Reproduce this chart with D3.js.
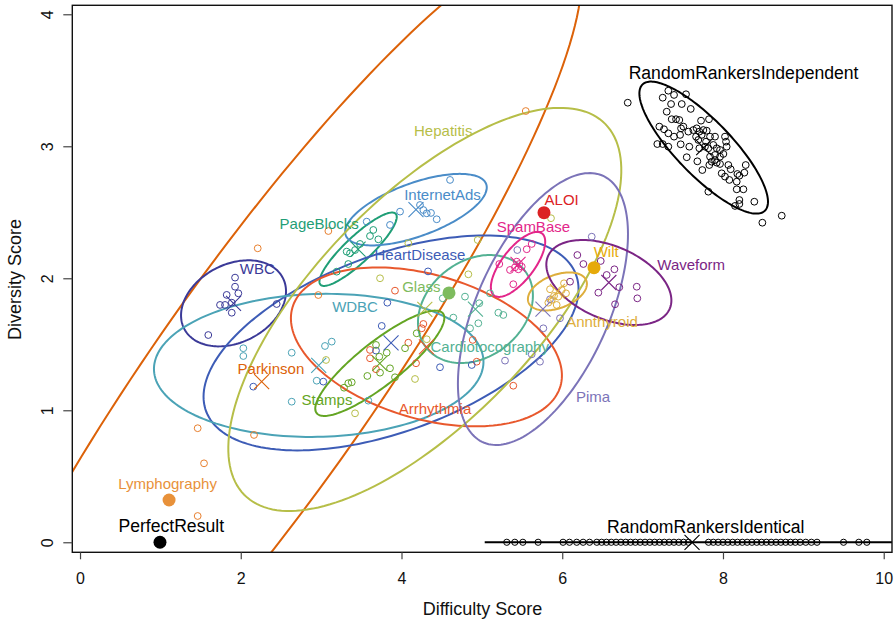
<!DOCTYPE html>
<html>
<head>
<meta charset="utf-8">
<script src="https://cdn.jsdelivr.net/npm/d3@7"></script>
<style>
  body { margin: 0; background: #fff; }
  text { font-family: "Liberation Sans", Arial, Helvetica, sans-serif; }
</style>
</head>
<body>
<script>
'use strict';

// ---- data ----
// ellipse summary per dataset: centre, sd in x, sd in y, correlation
var ellNames = ['RandomRankersIndependent', 'RandomRankersIdentical', 'Parkinson', 'WBC', 'PageBlocks',
    'InternetAds', 'HeartDisease', 'WDBC', 'Arrhythmia', 'Stamps', 'Hepatitis', 'Cardiotocography',
    'Pima', 'SpamBase', 'Annthyroid', 'Waveform'];
var ellCx = [7.76, 7.615, 2.26, 1.91, 3.46, 4.18, 3.87, 2.97, 4.31, 3.73, 4.29, 4.92, 5.76, 5.45, 5.94, 6.58];
var ellCy = [2.99, 0, 1.217, 1.81, 2.22, 2.52, 1.51, 1.34, 1.48, 1.356, 1.764, 1.767, 1.767, 2.105, 1.90, 1.968];
var ellSx = [0.80, 2.58, 3.98, 0.653, 0.481, 0.881, 2.333, 2.05, 1.686, 0.803, 2.445, 0.715, 1.058, 0.338, 0.367, 0.778];
var ellSy = [0.50, 0, 3.34, 0.326, 0.278, 0.271, 0.814, 0.542, 0.602, 0.399, 1.527, 0.409, 1.030, 0.246, 0.144, 0.322];
var ellR = [-0.82, 0, 0.91, 0.28, 0.88, 0.62, 0.5, 0.05, -0.36, 0.86, 0.69, 0.25, 0.55, 0.7, 0.4, -0.42];

// single summary points (filled dots)
var dotNames = ['PerfectResult', 'Lymphography', 'Glass', 'ALOI', 'Wilt'];
var dotX = [0.995, 1.108, 4.591, 5.773, 6.395];
var dotY = [0, 0.32, 1.889, 2.497, 2.080];

// dataset labels (data coordinates of the label centre)
var labelNames = ['RandomRankersIndependent', 'RandomRankersIdentical', 'PerfectResult', 'Lymphography',
    'Parkinson', 'WBC', 'PageBlocks', 'InternetAds', 'HeartDisease', 'Hepatitis', 'Glass', 'WDBC',
    'Stamps', 'Arrhythmia', 'Cardiotocography', 'SpamBase', 'ALOI', 'Wilt', 'Waveform', 'Annthyroid', 'Pima'];
var labelX = [8.256, 7.785, 1.135, 1.089, 2.375, 2.206, 2.976, 4.510, 4.230, 4.519, 4.247, 3.422,
    3.073, 4.417, 5.098, 5.641, 5.993, 6.547, 7.605, 6.495, 6.383];
var labelY = [3.555, 0.118, 0.123, 0.447, 1.318, 2.076, 2.417, 2.636, 2.182, 3.118, 1.936, 1.785,
    1.078, 1.015, 1.482, 2.391, 2.593, 2.202, 2.101, 1.671, 1.103];

// individual runs
var ptsRandomIndependent = [[7.320, 3.421], [7.391, 3.389], [7.540, 3.394], [7.250, 3.368], [7.354, 3.320],
    [7.487, 3.320], [7.599, 3.283], [6.815, 3.330], [7.300, 3.262], [7.727, 3.194], [7.826, 3.205],
    [7.362, 3.205], [7.416, 3.205], [7.457, 3.199], [7.507, 3.149], [7.478, 3.136], [7.208, 3.149],
    [7.266, 3.129], [7.320, 3.098], [7.391, 3.073], [7.466, 3.086], [7.569, 3.111], [7.631, 3.123],
    [7.673, 3.136], [7.706, 3.111], [7.756, 3.123], [7.798, 3.118], [7.839, 3.073], [7.901, 3.073],
    [7.665, 3.073], [7.693, 3.048], [7.735, 3.086], [7.789, 3.035], [7.880, 3.010], [7.922, 2.985],
    [7.963, 2.972], [8.025, 3.073], [8.038, 3.035], [7.183, 3.017], [7.250, 3.017], [7.320, 2.997],
    [7.474, 3.015], [7.581, 2.997], [7.818, 2.985], [7.839, 2.921], [7.901, 2.934], [7.963, 2.921],
    [8.005, 2.942], [7.860, 2.883], [7.922, 2.876], [7.549, 2.917], [7.681, 2.886], [7.743, 2.820],
    [7.830, 2.858], [7.901, 2.896], [7.963, 2.866], [8.067, 2.858], [8.096, 2.826], [8.283, 2.858],
    [8.266, 2.800], [7.984, 2.795], [8.025, 2.770], [8.079, 2.745], [8.179, 2.790], [8.204, 2.777],
    [8.171, 2.732], [8.254, 2.674], [8.171, 2.674], [7.818, 2.656], [8.204, 2.593], [8.150, 2.548],
    [8.204, 2.563], [8.390, 2.580], [8.490, 2.421], [8.731, 2.474], [8.046, 2.997], [7.776, 2.997],
    [7.706, 2.985]];
var identicalX = [5.31, 5.41, 5.51, 5.70, 6.01, 6.09, 6.18, 6.26, 6.34, 6.43, 6.49, 6.55, 6.61, 6.67,
    6.73, 6.79, 6.85, 6.91, 6.97, 7.03, 7.09, 7.15, 7.21, 7.27, 7.33, 7.39, 7.45, 7.51, 7.57, 7.82,
    7.88, 7.94, 8.00, 8.06, 8.12, 8.18, 8.24, 8.30, 8.36, 8.42, 8.48, 8.54, 8.60, 8.66, 8.72, 8.78,
    8.84, 8.90, 8.96, 9.03, 9.10, 9.17, 9.50, 9.69, 9.79];
var ptsLymphography = [[1.464, 0.864], [1.543, 0.598], [1.464, 0.199], [2.165, 0.813], [2.211, 2.227],
    [3.090, 2.358], [2.965, 1.873], [5.546, 3.267]];
var ptsArrhythmia = [[3.919, 1.906], [4.272, 1.654], [4.252, 1.621], [4.085, 1.512], [3.608, 1.394],
    [3.608, 1.457], [4.181, 1.356], [3.683, 1.311], [4.886, 1.533], [4.936, 1.368], [5.391, 1.186]];
var ptsHeartDisease = [[2.156, 1.179], [4.330, 2.052], [3.824, 1.815], [3.754, 1.639], [3.683, 1.452],
    [4.479, 1.326], [4.874, 1.343], [3.027, 1.217]];
var ptsInternetAds = [[4.604, 2.745], [3.982, 2.505], [3.567, 2.429], [4.438, 2.447], [4.230, 2.555],
    [4.272, 2.517], [4.314, 2.492], [4.367, 2.495], [3.857, 2.404]];
var ptsWBC = [[1.929, 2.005], [1.929, 1.936], [1.970, 1.886], [1.825, 1.874], [1.742, 1.798],
    [1.804, 1.798], [1.888, 1.815], [1.888, 1.739], [2.447, 1.805], [1.596, 1.570]];
var ptsPageBlocks = [[3.649, 2.366], [3.608, 2.320], [3.712, 2.295], [3.484, 2.260], [3.422, 2.214],
    [3.318, 2.202], [3.359, 2.189], [3.338, 2.108], [3.194, 2.050]];
var ptsWDBC = [[2.032, 1.470], [2.032, 1.411], [2.634, 1.436], [2.634, 1.065], [2.945, 1.224],
    [3.048, 1.487], [3.132, 1.520], [3.587, 1.073]];
var ptsStamps = [[3.683, 1.495], [3.816, 1.436], [3.724, 1.406], [3.857, 1.318], [3.575, 1.260],
    [3.733, 1.285], [4.044, 1.470], [4.189, 1.583], [3.381, 1.212], [3.338, 1.205], [3.285, 1.171],
    [3.919, 1.250]];
var ptsHepatitis = [[4.085, 2.265], [3.733, 2.000], [4.948, 2.290], [4.832, 2.030], [5.860, 2.455],
    [3.061, 1.381], [4.168, 1.237], [3.422, 0.977], [4.314, 1.538]];
var ptsCardiotocography = [[4.790, 1.861], [4.968, 1.811], [5.205, 1.739], [5.267, 1.722], [4.853, 1.621],
    [4.956, 1.659], [4.645, 1.702], [4.513, 1.848], [5.101, 1.886]];
var ptsSpamBase = [[5.620, 2.260], [5.558, 2.220], [5.217, 2.108], [5.350, 2.063], [5.391, 1.955],
    [5.434, 2.126], [5.466, 2.108], [5.496, 2.088], [5.412, 2.083], [5.454, 2.068]];
var ptsPima = [[6.367, 2.315], [5.441, 2.214], [5.848, 1.841], [5.972, 1.697], [5.765, 1.621],
    [5.288, 1.376], [5.723, 1.368], [5.620, 1.424]];
var ptsAnnthyroid = [[5.848, 1.917], [5.898, 1.866], [5.931, 1.798], [5.994, 1.911], [6.047, 1.886],
    [5.951, 1.861], [5.869, 1.836], [6.022, 1.962], [5.827, 1.815]];
var ptsWaveform = [[6.188, 2.176], [6.263, 2.108], [6.479, 2.131], [6.649, 2.068], [6.553, 2.025],
    [6.710, 1.932], [6.449, 1.891], [6.927, 1.936], [6.934, 1.848], [6.657, 1.803], [6.097, 1.974]];

var xTicks = [0, 2, 4, 6, 8, 10];
var yTicks = [0, 1, 2, 3, 4];

// ---- styles ----
var COLORS = {
    RandomRankersIndependent: '#000000', RandomRankersIdentical: '#000000', PerfectResult: '#000000',
    Parkinson: '#dc6209', Lymphography: '#e8913a', WBC: '#3b3a98', PageBlocks: '#1f9e76',
    InternetAds: '#4a8cc8', HeartDisease: '#3d5cb6', WDBC: '#4ba3b6', Arrhythmia: '#e8582d',
    Stamps: '#64a523', Hepatitis: '#b6be48', Glass: '#7ebb5e', Cardiotocography: '#53b193',
    Pima: '#7b73b8', SpamBase: '#e3268a', Annthyroid: '#deae3c', Waveform: '#7b2585',
    ALOI: '#dc2224', Wilt: '#e6aa0a'
};
var pointColors = { Lymphography: '#e8802f' };

var SVG_SIZE = { width: 896, height: 621 };
var PLOT = { left: 72.3, right: 892, top: 5.3, bottom: 552.3 };

var svg = d3.select('body').append('svg')
    .attr('width', SVG_SIZE.width).attr('height', SVG_SIZE.height);

var xScale = d3.scaleLinear().domain([-0.096, 10.103]).range([PLOT.left, PLOT.right]);
var yScale = d3.scaleLinear().domain([-0.076, 4.068]).range([PLOT.bottom, PLOT.top]);

svg.append('clipPath').attr('id', 'plotClip')
    .append('rect')
    .attr('x', PLOT.left).attr('y', PLOT.top)
    .attr('width', PLOT.right - PLOT.left).attr('height', PLOT.bottom - PLOT.top);

var plot = svg.append('g').attr('clip-path', 'url(#plotClip)');

//ellipse outline from centre, sds and correlation
function ellipsePoints(cx, cy, sx, sy, r) {
    var d = Math.acos(r);
    return d3.range(0, 361, 2).map(function (deg) {
        var t = deg * Math.PI / 180;
        return [cx + sx * Math.cos(t + d / 2), cy + sy * Math.cos(t - d / 2)];
    });
}
var line = d3.line()
    .x(function (p) { return xScale(p[0]) })
    .y(function (p) { return yScale(p[1]) });

var ellipseData = ellNames.map(function (n, i) {
    return { name: n, cx: ellCx[i], cy: ellCy[i], sx: ellSx[i], sy: ellSy[i], r: ellR[i] };
});

plot.selectAll('path.ell').data(ellipseData).enter().append('path')
    .attr('class', 'ell')
    .attr('d', function (e) { return line(ellipsePoints(e.cx, e.cy, e.sx, e.sy, e.r)) })
    .attr('fill', 'none')
    .attr('stroke', function (e) { return COLORS[e.name] })
    .attr('stroke-width', 2);

// open circles for each run
var pointSets = [
    ['RandomRankersIndependent', ptsRandomIndependent],
    ['RandomRankersIdentical', identicalX.map(function (v) { return [v, 0] })],
    ['Lymphography', ptsLymphography], ['Arrhythmia', ptsArrhythmia], ['HeartDisease', ptsHeartDisease],
    ['InternetAds', ptsInternetAds], ['WBC', ptsWBC], ['PageBlocks', ptsPageBlocks], ['WDBC', ptsWDBC],
    ['Stamps', ptsStamps], ['Hepatitis', ptsHepatitis], ['Cardiotocography', ptsCardiotocography],
    ['SpamBase', ptsSpamBase], ['Pima', ptsPima], ['Annthyroid', ptsAnnthyroid], ['Waveform', ptsWaveform]
];
var allPoints = [];
pointSets.forEach(function (s) {
    s[1].forEach(function (p) { allPoints.push({ name: s[0], x: p[0], y: p[1] }) });
});

plot.selectAll('circle.pt').data(allPoints).enter().append('circle')
    .attr('class', 'pt')
    .attr('cx', function (d) { return xScale(d.x) })
    .attr('cy', function (d) { return yScale(d.y) })
    .attr('r', function (d) { return d.name === 'RandomRankersIdentical' ? 3.1 : 3.4 })
    .attr('fill', 'none')
    .attr('stroke', function (d) { return pointColors[d.name] || COLORS[d.name] })
    .attr('stroke-width', 1);

// centre crosses
var cross = 7.5;
plot.selectAll('path.cross').data(ellipseData).enter().append('path')
    .attr('class', 'cross')
    .attr('d', function (e) {
        var px = xScale(e.cx), py = yScale(e.cy);
        return 'M' + (px - cross) + ',' + (py - cross) + 'L' + (px + cross) + ',' + (py + cross) +
            'M' + (px - cross) + ',' + (py + cross) + 'L' + (px + cross) + ',' + (py - cross);
    })
    .attr('stroke', function (e) { return COLORS[e.name] })
    .attr('stroke-width', 1.1)
    .attr('fill', 'none');

// filled dots
plot.selectAll('circle.dot').data(dotNames).enter().append('circle')
    .attr('class', 'dot')
    .attr('cx', function (n, i) { return xScale(dotX[i]) })
    .attr('cy', function (n, i) { return yScale(dotY[i]) })
    .attr('r', 6.5)
    .attr('fill', function (n) { return COLORS[n] });

// labels
var bigLabels = ['RandomRankersIndependent', 'RandomRankersIdentical', 'PerfectResult'];
svg.selectAll('text.lab').data(labelNames).enter().append('text')
    .attr('class', 'lab')
    .attr('x', function (n, i) { return xScale(labelX[i]) })
    .attr('y', function (n, i) { return yScale(labelY[i]) })
    .attr('dy', '0.36em')
    .attr('text-anchor', 'middle')
    .attr('font-size', function (n) { return bigLabels.indexOf(n) >= 0 ? 17.6 : 15 })
    .attr('fill', function (n) { return COLORS[n] })
    .text(function (n) { return n });

// box
svg.append('rect')
    .attr('x', PLOT.left).attr('y', PLOT.top)
    .attr('width', PLOT.right - PLOT.left).attr('height', PLOT.bottom - PLOT.top)
    .attr('fill', 'none').attr('stroke', '#111').attr('stroke-width', 1.4);

// axes
var xAxis = d3.axisBottom(xScale).tickValues(xTicks).tickSize(7).tickFormat(d3.format('d'));
var gx = svg.append('g').attr('transform', 'translate(0,' + PLOT.bottom + ')').call(xAxis);
gx.select('.domain').remove();
gx.selectAll('line').attr('stroke', '#444').attr('stroke-width', 1.2);
gx.selectAll('text').attr('y', 31.8).attr('dy', null)
    .attr('font-size', 16).attr('fill', '#111')
    .style('font-family', '"Liberation Sans", Arial, sans-serif');

var yAxis = d3.axisLeft(yScale).tickValues(yTicks).tickSize(9).tickFormat(d3.format('d'));
var gy = svg.append('g').attr('transform', 'translate(' + PLOT.left + ',0)').call(yAxis);
gy.select('.domain').remove();
gy.selectAll('line').attr('stroke', '#444').attr('stroke-width', 1.2);
gy.selectAll('text')
    .attr('x', 0).attr('y', -19.8).attr('dy', null)
    .attr('transform', 'rotate(-90)')
    .attr('text-anchor', 'middle')
    .attr('font-size', 16).attr('fill', '#111')
    .style('font-family', '"Liberation Sans", Arial, sans-serif');

// axis titles
svg.append('text')
    .text('Difficulty Score')
    .attr('x', 482.5).attr('y', 614.5)
    .attr('text-anchor', 'middle').attr('font-size', 18).attr('fill', '#111');
svg.append('text')
    .text('Diversity Score')
    .attr('transform', 'translate(21,279.5) rotate(-90)')
    .attr('text-anchor', 'middle').attr('font-size', 18).attr('fill', '#111');
</script>
</body>
</html>
